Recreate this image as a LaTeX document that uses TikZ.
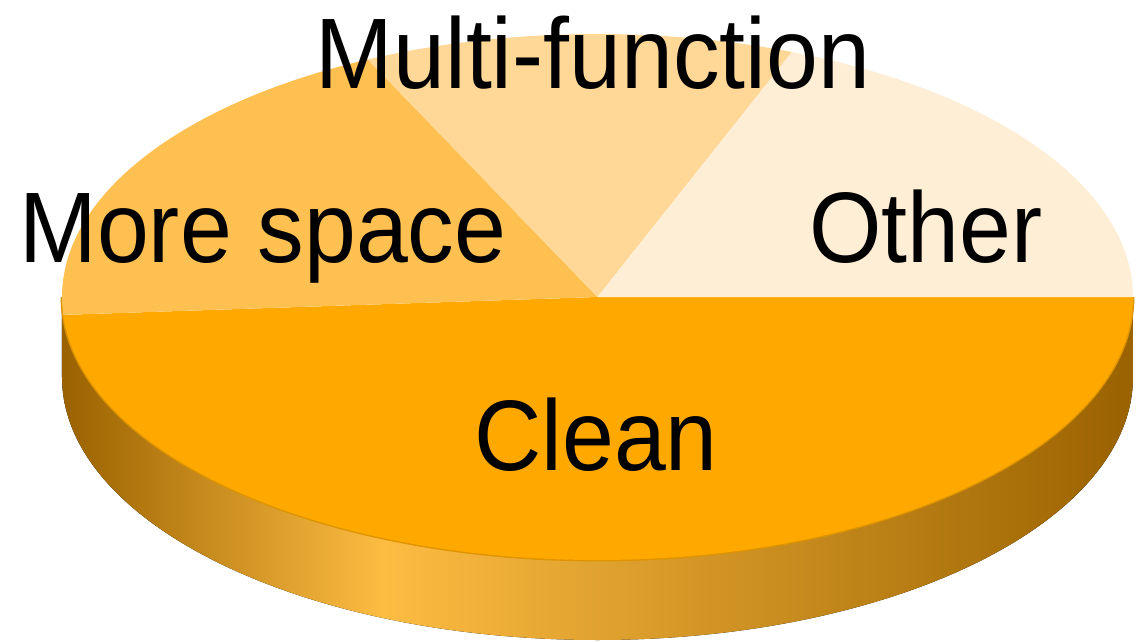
\documentclass[tikz,border=0pt]{standalone}
\usepackage{fontspec}
\setmainfont{Liberation Sans}
\usetikzlibrary{positioning,calc}

\definecolor{cleanc}{HTML}{FFA800}
\definecolor{morec}{HTML}{FFC052}
\definecolor{multic}{HTML}{FFD898}
\definecolor{otherc}{HTML}{FFEED6}
\definecolor{rimdark}{HTML}{9A6200}
\definecolor{rimlight}{HTML}{FDBC42}
\definecolor{rimedge}{HTML}{DD9400}
\pgfdeclarehorizontalshading{rimshade}{100bp}{color(0bp)=(rimdark); color(25bp)=(rimdark);
  color(40bp)=(rimlight); color(75bp)=(rimdark); color(100bp)=(rimdark)}

\begin{document}
\begin{tikzpicture}[x=0.01cm,y=-0.01cm,
  pie label/.style={font=\fontsize{28.5}{34}\selectfont,xscale=0.93,transform shape,
    anchor=base,inner sep=0pt}]
  \useasboundingbox (0,0) rectangle (1141,642);
  \coordinate (c) at (597.5,297);

  % side of the pie
  \fill[shading=rimshade] (1133,297) arc[start angle=0,end angle=180,x radius=535.5,y radius=263]
    -- (62,377) arc[start angle=180,end angle=0,x radius=535.5,y radius=263] -- cycle;
  \draw[rimedge,line width=0.8pt] (1133,297) arc[start angle=0,end angle=180,x radius=535.5,y radius=263];

  % slices
  \foreach \a/\b/\col in {0/176.1/cleanc,176.1/244.6/morec,244.6/291.3/multic,291.3/360/otherc}
    \fill[\col] (c) -- ++(\a:535.5 and 263) arc[start angle=\a,end angle=\b,x radius=535.5,y radius=263] -- cycle;

  \node[pie label] (multi) at (593,88) {Multi-function};
  \node[pie label] (more) at (263,262) {More space};
  \node[pie label] (other) at (926,262) {Other};
  \node[pie label] (clean) at (596,470) {Clean};
\end{tikzpicture}
\end{document}
